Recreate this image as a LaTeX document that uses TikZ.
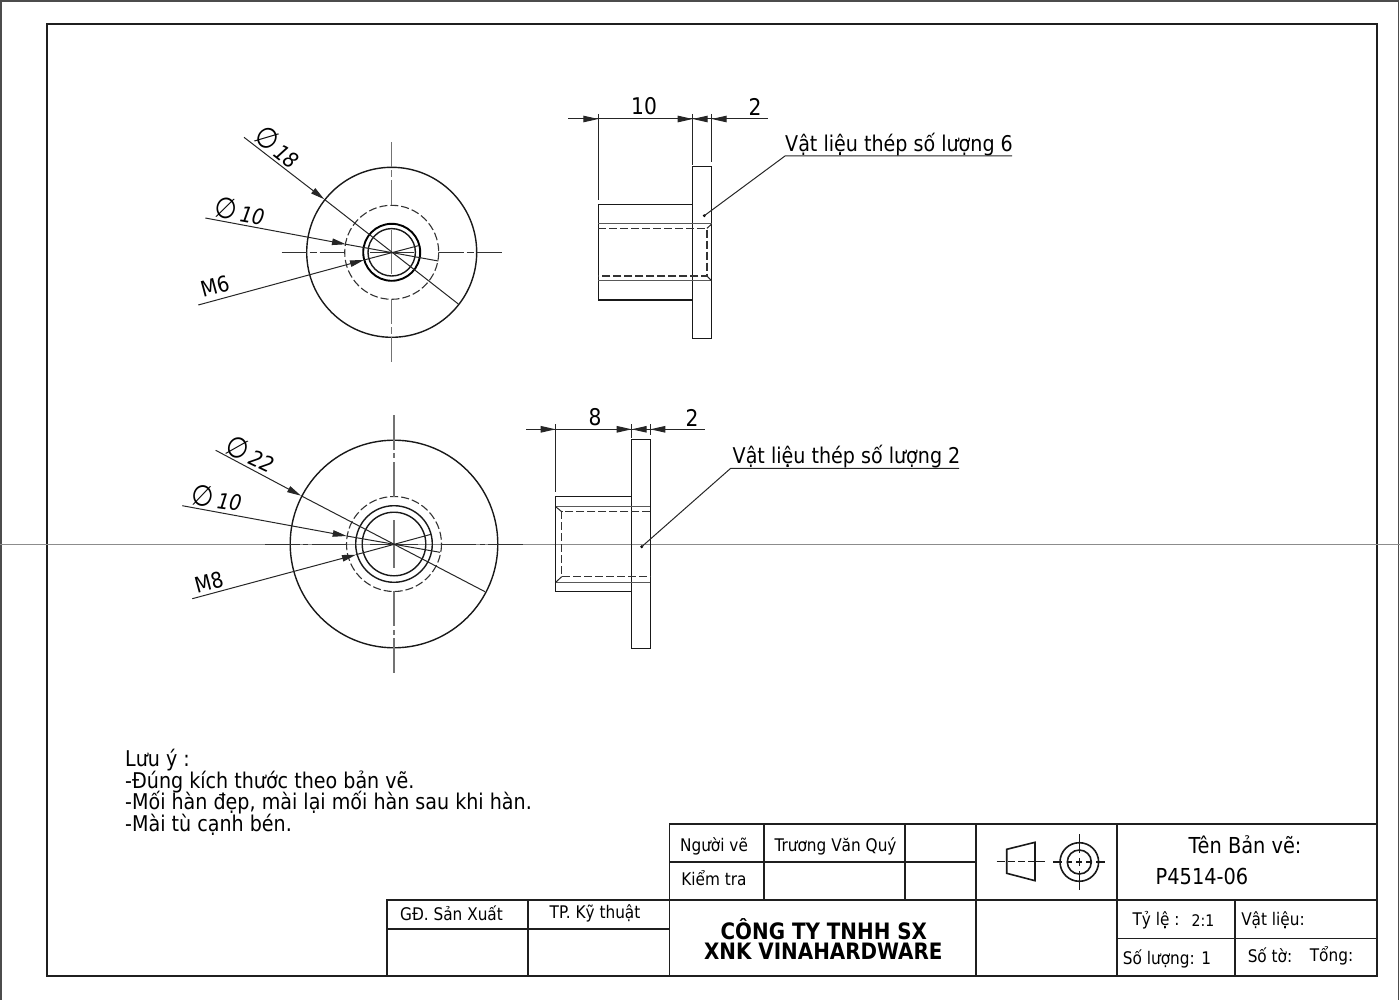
\documentclass[tikz,border=0pt]{standalone}
\usepackage{fontspec}
\setmainfont[FakeStretch=0.88]{DejaVu Sans}
\usetikzlibrary{arrows.meta}
\newcommand{\diasign}{{\fontsize{29}{29}\selectfont ∅}}
\tikzset{
frameline/.style={line width=2pt,color=black!88},
tableline/.style={line width=1.6pt,color=black!88},
partline/.style={line width=1.4pt,color=black!90},
thinline/.style={line width=1pt,color=black!85},
hiddenline/.style={line width=1.1pt,color=black!80,dash pattern=on 8pt off 3pt},
axisline/.style={line width=1.2pt,color=black!55},
leadtip/.style={thinline,-{Triangle[length=14pt,width=6.5pt]}},
dimtip/.style={thinline,-{Triangle[length=15pt,width=6.5pt]}},
dimtext/.style={font=\fontsize{23}{25}\selectfont,inner sep=0pt},
calltext/.style={font=\fontsize{21.7}{24}\selectfont,inner sep=0pt},
cellbig/.style={font=\fontsize{22}{24}\selectfont,inner sep=0pt},
cell/.style={font=\fontsize{17.4}{20}\selectfont,inner sep=0pt},
companytext/.style={font=\fontsize{22.6}{24}\selectfont\bfseries,inner sep=0pt},
}

\begin{document}
\begin{tikzpicture}[x=1pt,y=1pt,yscale=-1,xscale=1]
\useasboundingbox (0,0) rectangle (1400,1000);

%Shape: Sheet edge
\draw [color=black!70,line width=1.5pt] (1,1000) -- (1,1) -- (1398.5,1) -- (1398.5,1000) ;
%Shape: Frame
\draw [frameline] (47,24) rectangle (1376.5,976) ;
%Straight Lines: fold line
\draw [color=black!45,line width=1pt] (0,544) -- (1400,544) ;

%Shape: Front view, small part
\begin{scope}[shift={(391.7,252.3)}]
\draw [partline] (0,0) circle (85) ;
\draw [hiddenline] (0,0) circle (47) ;
\draw [line width=1.9pt] (0,0) circle (28.5) ;
\draw [partline] (0,0) circle (23.7) ;
\foreach \a/\b in {-110/-85,-82/-75,-72/-47,-22/22,47/72,75/82,85/110}{
  \draw [axisline] (0,\a) -- (0,\b) ;
  \draw [axisline,color=black!80,line width=1pt] (\a,0) -- (\b,0) ;
}
\end{scope}

%Straight Lines: leaders, small part
\coordinate (a18) at (244,137.3);
\coordinate (t18) at (324.3,199.3);
\coordinate (b18) at (458.3,304);
\coordinate (a10) at (205.3,218);
\coordinate (t10) at (346,244.3);
\coordinate (b10) at (438.3,261);
\coordinate (am6) at (198.3,305);
\coordinate (tm6) at (364,260);
\coordinate (bm6) at (418.3,245.7);
\draw [leadtip] (a18) -- (t18) ;
\draw [thinline] (t18) -- (b18) ;
\draw [leadtip] (a10) -- (t10) ;
\draw [thinline] (t10) -- (b10) ;
\draw [leadtip] (am6) -- (tm6) ;
\draw [thinline] (tm6) -- (bm6) ;
\node [calltext,rotate=-38] (lab18) at (278,147) {\itshape \diasign\,18};
\node [calltext,rotate=-10] (lab10) at (240,211) {\itshape \diasign\,10};
\node [calltext,rotate=15] (labm6) at (215,286) {M6};

%Shape: Side view, small part
\draw [partline] (692.7,166.7) rectangle (711.7,338.3) ;
\draw [partline] (598.3,204.7) rectangle (692.7,300) ;
\draw [thinline,color=black!65] (598.3,224) -- (711.7,224) ;
\draw [thinline,color=black!65] (598.3,281) -- (711.7,281) ;
\draw [hiddenline] (598.3,228.3) -- (707,228.3) -- (707,276) -- (598.3,276) ;
\draw [thinline] (707,228.3) -- (711.7,224) ;
\draw [thinline] (707,276) -- (711.7,281) ;

%Straight Lines: dimensions, small part
\coordinate (d1l) at (568,119);
\coordinate (d1r) at (767.7,119);
\coordinate (d1a) at (598.3,119);
\coordinate (d1b) at (692.7,119);
\coordinate (d1c) at (711.7,119);
\draw [thinline] (598.3,114) -- (598.3,200) ;
\draw [thinline] (692.7,114) -- (692.7,165) ;
\draw [thinline] (711.7,114) -- (711.7,162) ;
\draw [thinline] (d1l) -- (d1r) ;
\draw [dimtip] ([xshift=-16pt]d1a) -- (d1a) ;
\draw [dimtip] ([xshift=-16pt]d1b) -- (d1b) ;
\draw [dimtip] ([xshift=16pt]d1b) -- (d1b) ;
\draw [dimtip] ([xshift=16pt]d1c) -- (d1c) ;
\node [dimtext] (dim10) at (644,106.5) {10};
\node [dimtext] (dim2a) at (755,106.5) {2};

%Straight Lines: callout, small part
\fill (704.3,215.7) circle (1.6) coordinate (dot1) ;
\node [calltext,anchor=west] (call1) at (785,144.5) {Vật liệu thép số lượng 6};
\coordinate (knee1) at (785,156);
\draw [thinline] (dot1) -- (knee1) -- (1012,156) ;

%Shape: Front view, big part
\begin{scope}[shift={(394,544)}]
\draw [partline] (0,0) circle (103.8) ;
\draw [hiddenline] (0,0) circle (47.5) ;
\draw [partline] (0,0) circle (38.3) ;
\draw [partline] (0,0) circle (31.8) ;
\foreach \a/\b in {-129/-94,-91/-86,-82/-47,-24/24,47/82,86/91,94/129}{
  \draw [axisline] (0,\a) -- (0,\b) ;
  \draw [axisline,color=black!80,line width=1pt] (\a,0) -- (\b,0) ;
}
\end{scope}

%Straight Lines: leaders, big part
\coordinate (a22) at (215.7,450.3);
\coordinate (t22) at (301,495.7);
\coordinate (b22) at (485,591.7);
\coordinate (c10) at (182.3,505.7);
\coordinate (u10) at (346.7,536);
\coordinate (e10) at (440,552.3);
\coordinate (am8) at (192.3,598.7);
\coordinate (tm8) at (356,554.7);
\coordinate (bm8) at (431,534.3);
\draw [leadtip] (a22) -- (t22) ;
\draw [thinline] (t22) -- (b22) ;
\draw [leadtip] (c10) -- (u10) ;
\draw [thinline] (u10) -- (e10) ;
\draw [leadtip] (am8) -- (tm8) ;
\draw [thinline] (tm8) -- (bm8) ;
\node [calltext,rotate=-25] (lab22) at (251,454) {\itshape \diasign\,22};
\node [calltext,rotate=-8] (labc10) at (217,498) {\itshape \diasign\,10};
\node [calltext,rotate=15] (labm8) at (209.3,582) {M8};

%Shape: Side view, big part
\draw [partline] (631.7,439.3) rectangle (650.3,648.7) ;
\draw [partline] (555.7,496.7) rectangle (631.7,591.7) ;
\draw [thinline,color=black!65] (555.7,506.7) -- (650.3,506.7) ;
\draw [thinline,color=black!65] (555.7,582.3) -- (650.3,582.3) ;
\draw [hiddenline] (650.3,511.7) -- (561.7,511.7) -- (561.7,576.7) -- (650.3,576.7) ;
\draw [thinline] (555.7,506.7) -- (561.7,511.7) ;
\draw [thinline] (555.7,582.3) -- (561.7,576.7) ;

%Straight Lines: dimensions, big part
\coordinate (d2l) at (526,429.3);
\coordinate (d2r) at (705,429.3);
\coordinate (d2a) at (555.7,429.3);
\coordinate (d2b) at (631.7,429.3);
\coordinate (d2c) at (650.3,429.3);
\draw [thinline] (555.7,424) -- (555.7,491.7) ;
\draw [thinline] (631.7,424) -- (631.7,438) ;
\draw [thinline] (650.3,424) -- (650.3,435) ;
\draw [thinline] (d2l) -- (d2r) ;
\draw [dimtip] ([xshift=-16pt]d2a) -- (d2a) ;
\draw [dimtip] ([xshift=-16pt]d2b) -- (d2b) ;
\draw [dimtip] ([xshift=16pt]d2b) -- (d2b) ;
\draw [dimtip] ([xshift=16pt]d2c) -- (d2c) ;
\node [dimtext] (dim8) at (595,417) {8};
\node [dimtext] (dim2b) at (692,417.5) {2};

%Straight Lines: callout, big part
\fill (641.7,546.7) circle (1.6) coordinate (dot2) ;
\node [calltext,anchor=west] (call2) at (732.5,456.5) {Vật liệu thép số lượng 2};
\coordinate (knee2) at (730.7,468.3);
\draw [thinline] (dot2) -- (knee2) -- (959,468.3) ;

%Text: notes
\node [calltext,anchor=west] (note1) at (125,760) {Lưu ý :};
\node [calltext,anchor=west] (note2) at (125,781.5) {-Đúng kích thước theo bản vẽ.};
\node [calltext,anchor=west] (note3) at (125,803) {-Mối hàn đẹp, mài lại mối hàn sau khi hàn.};
\node [calltext,anchor=west] (note4) at (125,824.5) {-Mài tù cạnh bén.};

%Shape: Title block
\draw [tableline] (669.3,900) -- (669.3,824) -- (1376.5,824) ;
\draw [tableline] (387,976) -- (387,900) -- (1376.5,900) ;
\draw [tableline] (669.3,861.7) -- (975.7,861.7) ;
\draw [tableline] (763.7,824) -- (763.7,900) ;
\draw [tableline] (905,824) -- (905,900) ;
\draw [tableline] (975.7,824) -- (975.7,976) ;
\draw [tableline] (1117,824) -- (1117,976) ;
\draw [tableline] (1117,938.3) -- (1376.5,938.3) ;
\draw [tableline] (1235,900) -- (1235,976) ;
\draw [tableline] (387,929) -- (669.3,929) ;
\draw [tableline] (528,900) -- (528,976) ;
\draw [tableline] (669.3,900) -- (669.3,976) ;

%Shape: Projection symbol
\draw [partline,line width=1.6pt] (1006.7,849.3) -- (1035,842.3) -- (1035,880.7) -- (1006.7,873.3) -- cycle ;
\foreach \a/\b in {996.7/1005,1008/1015,1018/1025,1028/1045}{
  \draw [partline] (\a,861.5) -- (\b,861.5) ;
}
\begin{scope}[shift={(1079.3,862)}]
\draw [partline,line width=1.6pt] (0,0) circle (19.3) ;
\draw [partline,line width=1.6pt] (0,0) circle (12) ;
\foreach \a/\b in {-26/-17,-12/-7,-3/3,7/12,17/26}{
  \draw [partline] (\a,0) -- (\b,0) ;
}
\foreach \a/\b in {-28/-9,-4/4,9/28}{
  \draw [partline] (0,\a) -- (0,\b) ;
}
\end{scope}

%Text: title block
\node [cell] (drawnby) at (714,846.5) {Người vẽ};
\node [cell] (drawer) at (835.5,846) {Trương Văn Quý};
\node [cell] (checked) at (714,878) {Kiểm tra};
\node [cell] (director) at (451.5,913) {GĐ. Sản Xuất};
\node [cell] (technical) at (595,913) {TP. Kỹ thuật};
\node [companytext] (company1) at (823.8,929.5) {CÔNG TY TNHH SX};
\node [companytext] (company2) at (823.3,951) {XNK VINAHARDWARE};
\node [cellbig] (titlename) at (1245,845) {Tên Bản vẽ:};
\node [cellbig] (partcode) at (1202,876.7) {P4514-06};
\node [cell] (scalename) at (1156,920) {Tỷ lệ :};
\node [cell,font=\fontsize{16}{18}\selectfont] (scaleval) at (1203,920.5) {2:1};
\node [cell] (material) at (1273,920) {Vật liệu:};
\node [cell] (quantity) at (1167,959) {Số lượng: 1};
\node [cell] (sheet) at (1270,955.7) {Số tờ:};
\node [cell] (total) at (1331.5,955.7) {Tổng:};
\end{tikzpicture}
\end{document}
